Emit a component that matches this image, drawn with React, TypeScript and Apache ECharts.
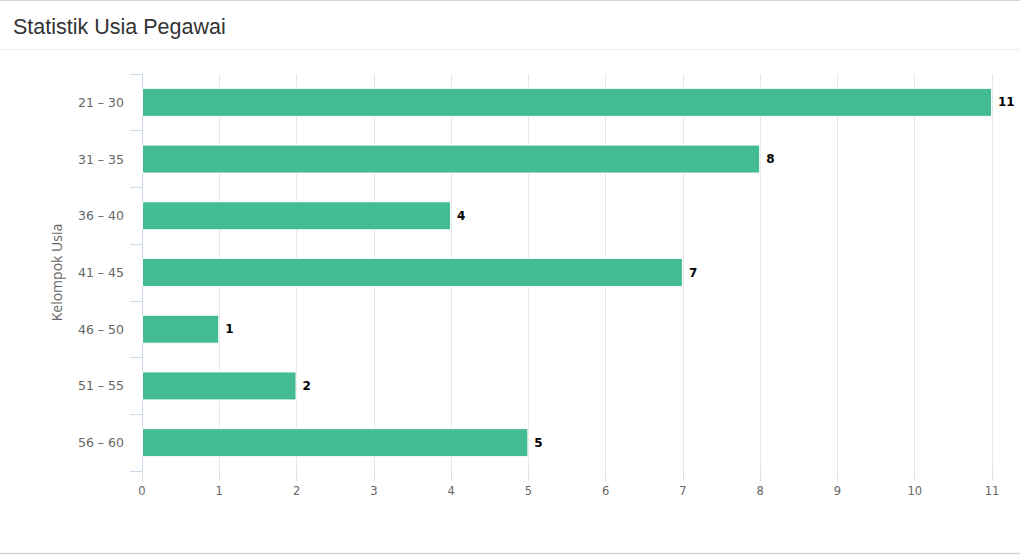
import React, { useEffect, useRef } from "react";
import * as echarts from "echarts";

const titleText = "Statistik Usia Pegawai";
const axisTitle = "Kelompok Usia";
const categories = ["21 – 30", "31 – 35", "36 – 40", "41 – 45", "46 – 50", "51 – 55", "56 – 60"];
const values = [11, 8, 4, 7, 1, 2, 5];
const xMin = 0;
const xMax = 11;
const xInterval = 1;

export default function App() {
  const ref = useRef<HTMLDivElement>(null);
  useEffect(() => {
    if (!ref.current) return;
    const chart = echarts.init(ref.current, null, { renderer: "svg" });
    const labelFont = "'DejaVu Sans', Verdana, sans-serif";
    chart.setOption({
      animation: false,
      backgroundColor: "#ffffff",
      title: {
        text: titleText,
        left: 8,
        top: 11,
        textStyle: {
          fontFamily: "'Liberation Sans', Arial, sans-serif",
          fontSize: 21.5,
          fontWeight: "normal",
          color: "#333333",
        },
      },
      graphic: [
        { type: "line", shape: { x1: 0, y1: 0.5, x2: 1020, y2: 0.5 }, style: { stroke: "#d4d4d4", lineWidth: 1 } },
        { type: "line", shape: { x1: 0, y1: 49.5, x2: 1020, y2: 49.5 }, style: { stroke: "#eeeeee", lineWidth: 1 } },
        { type: "line", shape: { x1: 0, y1: 553.5, x2: 1020, y2: 553.5 }, style: { stroke: "#d4d4d4", lineWidth: 1.5 } },
      ],
      grid: { left: 142, right: 28, top: 74, bottom: 85, containLabel: false },
      xAxis: {
        type: "value",
        min: xMin,
        max: xMax,
        interval: xInterval,
        axisLine: { show: false },
        axisTick: { show: true, length: 10, lineStyle: { color: "#e0e0e0" } },
        axisLabel: { color: "#666666", fontSize: 11.5, fontFamily: labelFont, margin: 14 },
        splitLine: { show: true, lineStyle: { color: "#e6e6e6", width: 1 } },
      },
      yAxis: {
        type: "category",
        data: categories,
        inverse: true,
        name: axisTitle,
        nameLocation: "middle",
        nameGap: 79,
        nameRotate: 90,
        nameTextStyle: { color: "#666666", fontSize: 14, fontFamily: "'Open Sans', sans-serif" },
        axisLine: { show: true, lineStyle: { color: "#ccd6eb" } },
        axisTick: { show: true, length: 12, alignWithLabel: false, lineStyle: { color: "#ccd6eb" } },
        axisLabel: { color: "#666666", fontSize: 12.5, fontFamily: labelFont, margin: 18 },
        splitLine: { show: false },
      },
      series: [
        {
          type: "bar",
          data: values,
          barWidth: 29,
          itemStyle: { color: "#43bb94", borderColor: "#ffffff", borderWidth: 1 },
          label: {
            show: true,
            position: "right",
            distance: 6,
            color: "#000000",
            fontWeight: "bold",
            fontSize: 12,
            fontFamily: labelFont,
            textBorderColor: "#ffffff",
            textBorderWidth: 2,
          },
        },
      ],
    });
    return () => chart.dispose();
  }, []);
  return (
    <div
      ref={ref}
      style={{ position: "fixed", left: 0, top: 0, width: 1020, height: 556, background: "#fff" }}
    />
  );
}
